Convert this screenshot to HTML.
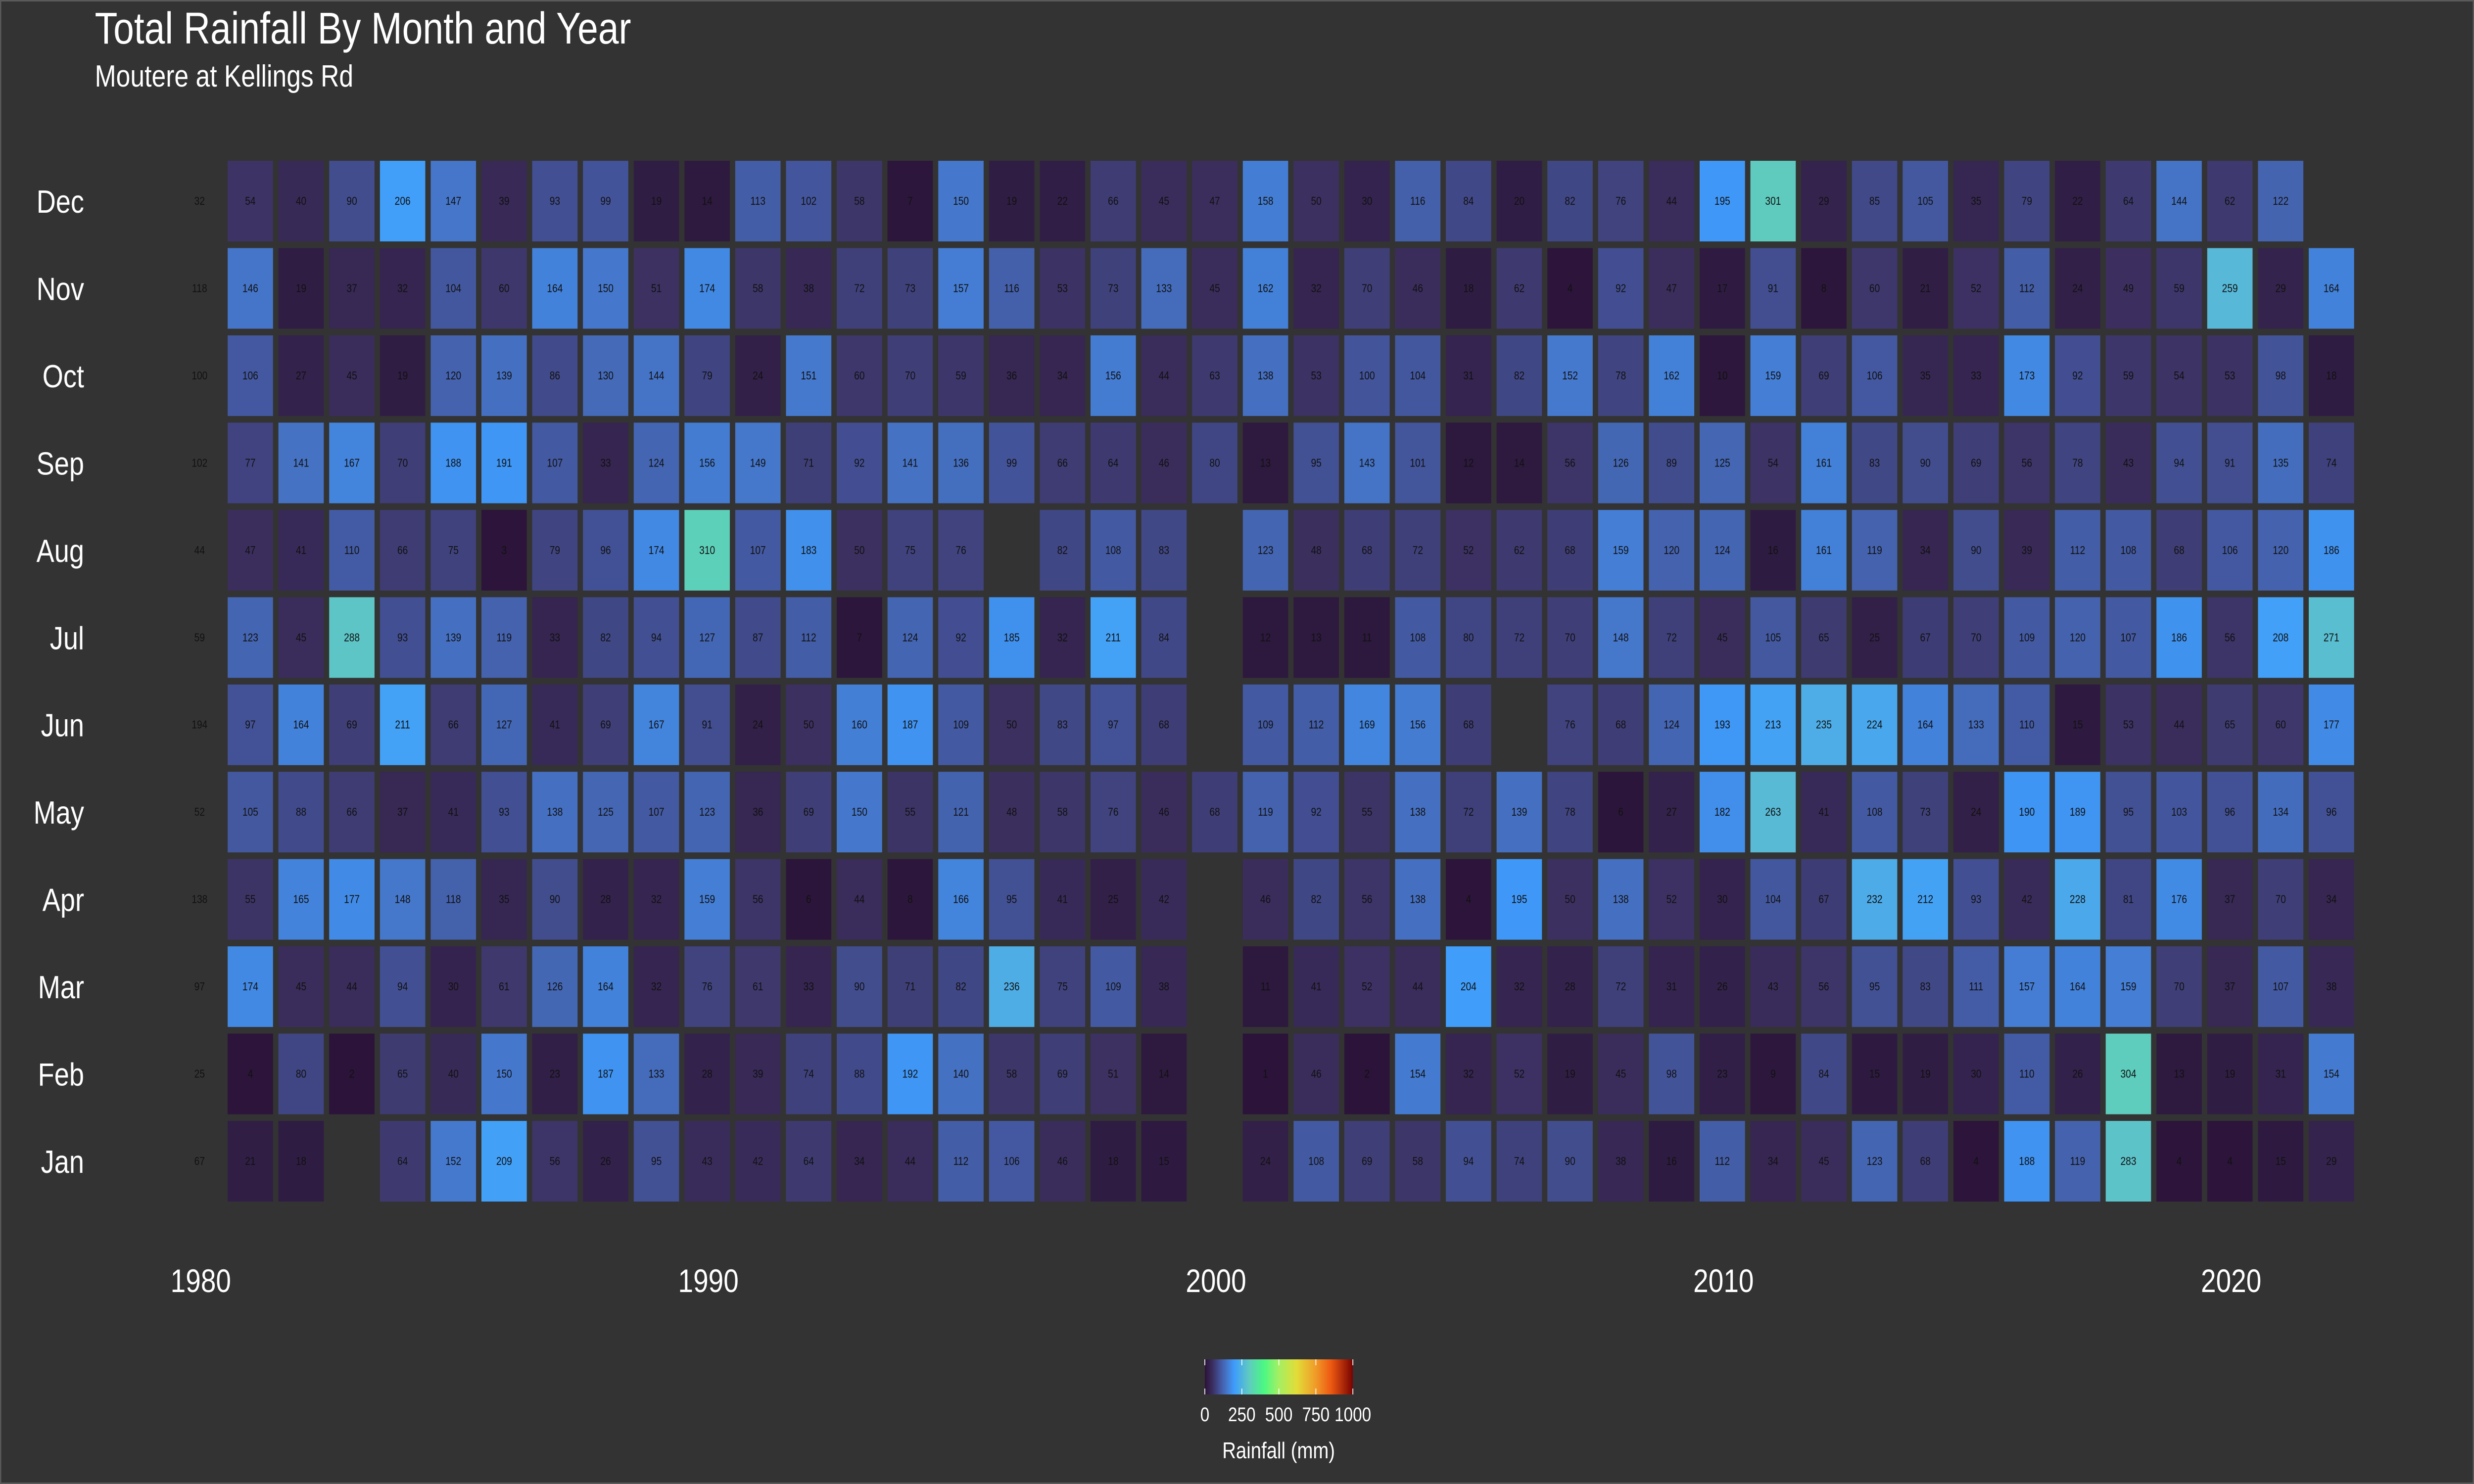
<!DOCTYPE html>
<html><head><meta charset="utf-8"><style>
html,body{margin:0;padding:0;background:#333333;width:100%;height:100%;overflow:hidden;}
#chart{position:relative;width:100vw;height:100vh;background:#333333;overflow:hidden;}
#svg{display:block;width:100vw;height:100vh;}
svg text{font-family:"Liberation Sans",sans-serif;}
</style></head><body>
<div id="chart">
<svg id="svg" viewBox="0 0 6000 3000" preserveAspectRatio="none" xmlns="http://www.w3.org/2000/svg">
<defs>
<linearGradient id="lg" x1="0" x2="1" y1="0" y2="0">
<stop offset="0" stop-color="#2b1238"/><stop offset="0.05" stop-color="#3a2d5e"/><stop offset="0.1" stop-color="#43529a"/><stop offset="0.15" stop-color="#4578cc"/><stop offset="0.2" stop-color="#3e9cfd"/><stop offset="0.3" stop-color="#5fcbbf"/><stop offset="0.4" stop-color="#4af884"/><stop offset="0.5" stop-color="#a4ef62"/><stop offset="0.62" stop-color="#e2dc38"/><stop offset="0.75" stop-color="#f09a28"/><stop offset="0.85" stop-color="#ee5a12"/><stop offset="1" stop-color="#780202"/>
</linearGradient>
</defs>
<rect x="1.5" y="1.5" width="5997" height="2997" fill="none" stroke="#5a5a5a" stroke-width="3"/>
<text x="230" y="88" font-size="90" fill="#ffffff">Total Rainfall By Month and Year</text>
<text x="230" y="175" font-size="62" fill="#ffffff">Moutere at Kellings Rd</text>
<g id="cells"></g>
<g id="ylabels"></g>
<g id="xlabels"></g>
<g>
<rect x="2922" y="2748" width="359" height="71" fill="url(#lg)"/>
<g id="legticks"></g>
<text x="3101" y="2948" font-size="46" fill="#ffffff" text-anchor="middle">Rainfall (mm)</text>
</g>
</svg>
</div>
<script>
const months = ["Jan","Feb","Mar","Apr","May","Jun","Jul","Aug","Sep","Oct","Nov","Dec"];
const firstYear = 1980;
const xTicks = [1980,1990,2000,2010,2020];
const legendTicks = [0,250,500,750,1000];
const rainJan = [67,21,18,null,64,152,209,56,26,95,43,42,64,34,44,112,106,46,18,15,null,24,108,69,58,94,74,90,38,16,112,34,45,123,68,4,188,119,283,4,4,15,29];
const rainFeb = [25,4,80,2,65,40,150,23,187,133,28,39,74,88,192,140,58,69,51,14,null,1,46,2,154,32,52,19,45,98,23,9,84,15,19,30,110,26,304,13,19,31,154];
const rainMar = [97,174,45,44,94,30,61,126,164,32,76,61,33,90,71,82,236,75,109,38,null,11,41,52,44,204,32,28,72,31,26,43,56,95,83,111,157,164,159,70,37,107,38];
const rainApr = [138,55,165,177,148,118,35,90,28,32,159,56,6,44,8,166,95,41,25,42,null,46,82,56,138,4,195,50,138,52,30,104,67,232,212,93,42,228,81,176,37,70,34];
const rainMay = [52,105,88,66,37,41,93,138,125,107,123,36,69,150,55,121,48,58,76,46,68,119,92,55,138,72,139,78,6,27,182,263,41,108,73,24,190,189,95,103,96,134,96];
const rainJun = [194,97,164,69,211,66,127,41,69,167,91,24,50,160,187,109,50,83,97,68,null,109,112,169,156,68,null,76,68,124,193,213,235,224,164,133,110,15,53,44,65,60,177];
const rainJul = [59,123,45,288,93,139,119,33,82,94,127,87,112,7,124,92,185,32,211,84,null,12,13,11,108,80,72,70,148,72,45,105,65,25,67,70,109,120,107,186,56,208,271];
const rainAug = [44,47,41,110,66,75,3,79,96,174,310,107,183,50,75,76,null,82,108,83,null,123,48,68,72,52,62,68,159,120,124,16,161,119,34,90,39,112,108,68,106,120,186];
const rainSep = [102,77,141,167,70,188,191,107,33,124,156,149,71,92,141,136,99,66,64,46,80,13,95,143,101,12,14,56,126,89,125,54,161,83,90,69,56,78,43,94,91,135,74];
const rainOct = [100,106,27,45,19,120,139,86,130,144,79,24,151,60,70,59,36,34,156,44,63,138,53,100,104,31,82,152,78,162,10,159,69,106,35,33,173,92,59,54,53,98,18];
const rainNov = [118,146,19,37,32,104,60,164,150,51,174,58,38,72,73,157,116,53,73,133,45,162,32,70,46,18,62,4,92,47,17,91,8,60,21,52,112,24,49,59,259,29,164];
const rainDec = [32,54,40,90,206,147,39,93,99,19,14,113,102,58,7,150,19,22,66,45,47,158,50,30,116,84,20,82,76,44,195,301,29,85,105,35,79,22,64,144,62,122,null];
const series = [rainJan,rainFeb,rainMar,rainApr,rainMay,rainJun,rainJul,rainAug,rainSep,rainOct,rainNov,rainDec];

const NS = "http://www.w3.org/2000/svg";
function xScale(year){ return 484 + (year - firstYear) * 123.1; }
function yScale(mi){ return 2347 - mi * 176.45; }
function legX(v){ return 2922 + v / 1000 * 359; }
const stops = [[0,[43,18,56]],[15,[46,26,64]],[50,[60,48,96]],[100,[67,84,154]],[150,[69,120,204]],[200,[62,156,253]],[250,[85,180,220]],[300,[95,203,191]],[400,[74,248,132]],[500,[164,239,98]],[620,[226,220,56]],[750,[240,154,40]],[850,[238,90,18]],[1000,[120,2,2]]];
function colorOf(v){
  for(let i=1;i<stops.length;i++){
    if(v<=stops[i][0]){
      const a=stops[i-1],b=stops[i];const t=(v-a[0])/(b[0]-a[0]);
      const c=a[1].map((x,k)=>Math.round(x+(b[1][k]-x)*t));
      return "rgb("+c.join(",")+")";
    }
  }
  return "rgb(120,2,2)";
}
const cells=document.getElementById("cells");
series.forEach((vals,mi)=>{
  vals.forEach((v,yi)=>{
    if(v===null) return;
    const year=firstYear+yi;
    const cx=xScale(year), cy=yScale(mi);
    if(yi>0){
      const r=document.createElementNS(NS,"rect");
      r.setAttribute("x",cx-55);r.setAttribute("y",cy-81);
      r.setAttribute("width",110);r.setAttribute("height",163);
      r.setAttribute("fill",colorOf(v));
      
      
      cells.appendChild(r);
    }
    const t=document.createElementNS(NS,"text");
    t.setAttribute("x",cx);t.setAttribute("y",cy+8);
    t.setAttribute("font-size","23");t.setAttribute("text-anchor","middle");t.setAttribute("fill","#111111");
    t.textContent=v;
    
    
    cells.appendChild(t);
  });
});
const yl=document.getElementById("ylabels");
months.forEach((m,mi)=>{
  const t=document.createElementNS(NS,"text");
  t.setAttribute("x",204);t.setAttribute("y",yScale(mi)+24);
  t.setAttribute("font-size","65");t.setAttribute("text-anchor","end");t.setAttribute("fill","#ffffff");
  t.textContent=m;
  
  
  yl.appendChild(t);
});
const xl=document.getElementById("xlabels");
xTicks.forEach(y=>{
  const t=document.createElementNS(NS,"text");
  t.setAttribute("x",xScale(y)+3);t.setAttribute("y",2612);
  t.setAttribute("font-size","66");t.setAttribute("text-anchor","middle");t.setAttribute("fill","#ffffff");
  t.textContent=y;
  
  
  xl.appendChild(t);
});
const lt=document.getElementById("legticks");
legendTicks.forEach(v=>{
  const x=legX(v);
  [[2748,2760],[2807,2819]].forEach(p=>{
    const l=document.createElementNS(NS,"line");
    l.setAttribute("x1",x);l.setAttribute("x2",x);l.setAttribute("y1",p[0]);l.setAttribute("y2",p[1]);
    l.setAttribute("stroke","#ffffff");l.setAttribute("stroke-width","2");
    
    
    lt.appendChild(l);
  });
  const t=document.createElementNS(NS,"text");
  t.setAttribute("x",x);t.setAttribute("y",2873);
  t.setAttribute("font-size","40");t.setAttribute("text-anchor","middle");t.setAttribute("fill","#ffffff");
  t.textContent=v;
  
  
  lt.appendChild(t);
});
</script>
</body></html>
